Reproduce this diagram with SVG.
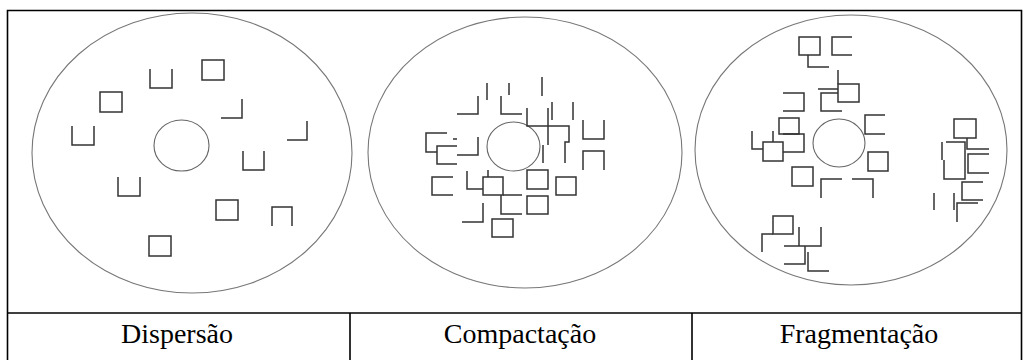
<svg xmlns="http://www.w3.org/2000/svg" width="1024" height="360" viewBox="0 0 1024 360">
  <style>
    .grid { fill: none; stroke: #000; stroke-width: 1.6; }
    .disk { fill: none; stroke: #777; stroke-width: 1.1; }
    .hole { fill: none; stroke: #666; stroke-width: 1.1; }
    .blk { fill: none; stroke: #333; stroke-width: 1.5; }
    .label { font-family: "Liberation Serif", "Times New Roman", serif; font-size: 28px; fill: #000; text-anchor: middle; }
  </style>
  <rect width="1024" height="360" fill="#fff"/>

  <!-- table frame -->
  <g id="frame">
    <path class="grid" d="M7.5,362 V10.5 H1021.5 V362"/>
    <path class="grid" d="M7.5,313 H1021.5" stroke-width="2.2"/>
    <path class="grid" d="M350,313 V362 M692,313 V362"/>
  </g>

  <!-- disk 1: blocks scattered -->
  <g id="dispersao">
    <ellipse class="disk" cx="192" cy="153" rx="160" ry="140"/>
    <ellipse class="hole" cx="181.5" cy="145.5" rx="27.5" ry="25.5"/>
    <path class="blk" d="M150,69 V88 H172 V69"/>
    <rect class="blk" x="202" y="60" width="22" height="20"/>
    <rect class="blk" x="100" y="92" width="22" height="20"/>
    <path class="blk" d="M242,99 V118 H221"/>
    <path class="blk" d="M72,126 V145 H94 V126"/>
    <path class="blk" d="M307,121 V140 H287"/>
    <path class="blk" d="M243,151 V170 H264 V151"/>
    <path class="blk" d="M118,177 V196 H140 V177"/>
    <rect class="blk" x="216" y="200" width="22" height="20"/>
    <path class="blk" d="M272,226 V207 H292 V226"/>
    <rect class="blk" x="149" y="236" width="22" height="20"/>
  </g>

  <!-- disk 2: blocks packed around the hub -->
  <g id="compactacao">
    <ellipse class="disk" cx="525" cy="152.5" rx="157" ry="135.5"/>
    <ellipse class="hole" cx="513.5" cy="146.5" rx="26.5" ry="24.5"/>
    <path class="blk" d="M487,83 V100 M509,83 V95 M542,77 V96"/>
    <path class="blk" d="M478,96 V114 H457"/>
    <path class="blk" d="M501,96 V114 H522"/>
    <path class="blk" d="M527,108 V126 H569 V142 H565 V163"/>
    <path class="blk" d="M548,108 V145 M552,102 V120 M573,102 V120 M543,145 V163"/>
    <path class="blk" d="M583,120 V139 H604 V120"/>
    <path class="blk" d="M583,170 V151 H604 V170"/>
    <path class="blk" d="M447,133 H426 V152 H437 M457,146 H437 V164 H457 M453,139 H457"/>
    <path class="blk" d="M478,137 V155 H457"/>
    <path class="blk" d="M453,177 H432 V195 H453"/>
    <path class="blk" d="M467,171 V189 H483 M488,170 V177 M503,195 H522 M501,195 V214 H522"/>
    <rect class="blk" x="483" y="177" width="20" height="18"/>
    <path class="blk" d="M483,203 V222 H462"/>
    <rect class="blk" x="492" y="219" width="21" height="18"/>
    <rect class="blk" x="527" y="170" width="21" height="19"/>
    <rect class="blk" x="527" y="196" width="21" height="18"/>
    <rect class="blk" x="556" y="177" width="20" height="18"/>
  </g>

  <!-- disk 3: blocks split into scattered pieces -->
  <g id="fragmentacao">
    <ellipse class="disk" cx="851" cy="150" rx="156" ry="135"/>
    <ellipse class="hole" cx="839" cy="143" rx="26" ry="24"/>
    <rect class="blk" x="799" y="37" width="21" height="18"/>
    <path class="blk" d="M808,55 V67 H829"/>
    <path class="blk" d="M852,37 H832 V55 H852"/>
    <path class="blk" d="M838,70 V84 M818,89 H838 M838,93 H821 V111 H842"/>
    <rect class="blk" x="838" y="84" width="21" height="18"/>
    <path class="blk" d="M783,93 H804 V111 H783"/>
    <rect class="blk" x="779" y="118" width="20" height="16"/>
    <path class="blk" d="M783,134 H804 V152 H783"/>
    <path class="blk" d="M752,131 V149 H763 M773,131 V142"/>
    <rect class="blk" x="763" y="142" width="20" height="19"/>
    <path class="blk" d="M885,115 H865 V134 H885"/>
    <rect class="blk" x="868" y="152" width="20" height="19"/>
    <rect class="blk" x="792" y="167" width="21" height="19"/>
    <path class="blk" d="M821,198 V179 H842"/>
    <path class="blk" d="M852,179 H873 V198"/>
    <rect class="blk" x="954" y="119" width="22" height="19"/>
    <path class="blk" d="M967,138 V149 H989 M989,154 H968 V173 H989"/>
    <path class="blk" d="M946,142 H965 V179 H944 V160 M942,142 V160"/>
    <path class="blk" d="M983,182 H962 V200 H983"/>
    <path class="blk" d="M978,203 H957 V222 M954,193 V210 M934,193 V210"/>
    <rect class="blk" x="773" y="216" width="20" height="18"/>
    <path class="blk" d="M762,252 V234 H773 M799,227 V246 M821,227 V246 H784 M805,246 V264 H784 M808,252 V271 H829"/>
  </g>

  <!-- column captions -->
  <g id="captions">
    <text class="label" x="177" y="343">Dispersão</text>
    <text class="label" x="520" y="343">Compactação</text>
    <text class="label" x="859" y="343">Fragmentação</text>
  </g>
</svg>
